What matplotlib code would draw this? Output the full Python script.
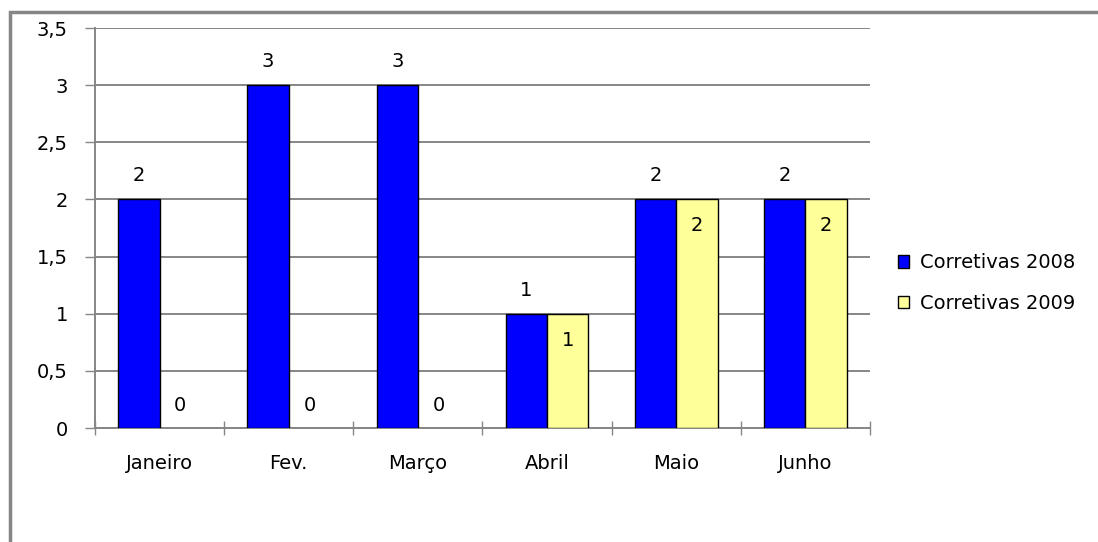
import matplotlib
matplotlib.use("Agg")
import matplotlib.pyplot as plt
import numpy as np
from matplotlib.patches import Rectangle, Patch
from matplotlib.ticker import FuncFormatter, FixedLocator

categories = ["Janeiro", "Fev.", "Março", "Abril", "Maio", "Junho"]
series_names = ["Corretivas 2008", "Corretivas 2009"]
values_2008 = [2, 3, 3, 1, 2, 2]
values_2009 = [0, 0, 0, 1, 2, 2]
colors = ["#0000FF", "#FFFF99"]

plt.rcParams['font.family'] = ['DejaVu Sans']
FS = 14

fig = plt.figure(figsize=(10.98, 5.42), dpi=100)
ax = fig.add_axes([95/1098, 1-428/542, (870-95)/1098, (428-28)/542])

x = np.arange(len(categories))
w = 0.32
ec1 = ["black" if v else "none" for v in values_2008]
ec2 = ["black" if v else "none" for v in values_2009]
ax.bar(x - w/2, values_2008, w, color=colors[0], edgecolor=ec1, linewidth=1, zorder=3)
ax.bar(x + w/2, values_2009, w, color=colors[1], edgecolor=ec2, linewidth=1, zorder=3)

for xi, v in zip(x - w/2, values_2008):
    ax.annotate(str(v), (xi, v), xytext=(0, 17), textcoords="offset points",
                ha="center", va="center", fontsize=FS)
for xi, v in zip(x + w/2, values_2009):
    off = -19 if v > 0 else 16.5
    ax.annotate(str(v), (xi, v), xytext=(0, off), textcoords="offset points",
                ha="center", va="center", fontsize=FS)

ax.set_xlim(-0.5, len(categories) - 0.5)
ax.set_ylim(0, 3.5)
ax.set_yticks(np.arange(0, 3.51, 0.5))
ax.yaxis.set_major_formatter(FuncFormatter(lambda v, p: ("%g" % v).replace(".", ",")))
ax.yaxis.grid(True, color="#868686", linewidth=1.4, zorder=0)
ax.set_axisbelow(True)

ax.set_xticks(x)
ax.set_xticklabels(categories, fontsize=FS)
ax.tick_params(axis="x", which="major", length=0, pad=19)
ax.xaxis.set_minor_locator(FixedLocator(np.arange(-0.5, len(categories), 1.0)))
ax.tick_params(axis="x", which="minor", length=10, direction="inout", color="#868686", width=1)
ax.tick_params(axis="y", length=7.5, color="#868686", width=1, labelsize=FS, pad=12)

for s in ["top", "right"]:
    ax.spines[s].set_visible(False)
for s in ["left", "bottom"]:
    ax.spines[s].set_color("#868686")
    ax.spines[s].set_linewidth(1.4)

handles = [Patch(facecolor=c, edgecolor="black", linewidth=1, label=n) for c, n in zip(colors, series_names)]
ax.legend(handles=handles, loc="center left", bbox_to_anchor=(880/1098, 1-283/542), bbox_transform=fig.transFigure,
          frameon=False, fontsize=FS, handlelength=0.6, handleheight=0.6,
          labelspacing=1.1, handletextpad=0.55)

fig.patches.append(Rectangle((10/1098, -0.1), 1.2, 1 - 12/542 + 0.1, transform=fig.transFigure,
                             fill=False, edgecolor="#868686", linewidth=2.5))

fig.savefig("out.png", dpi=100)
